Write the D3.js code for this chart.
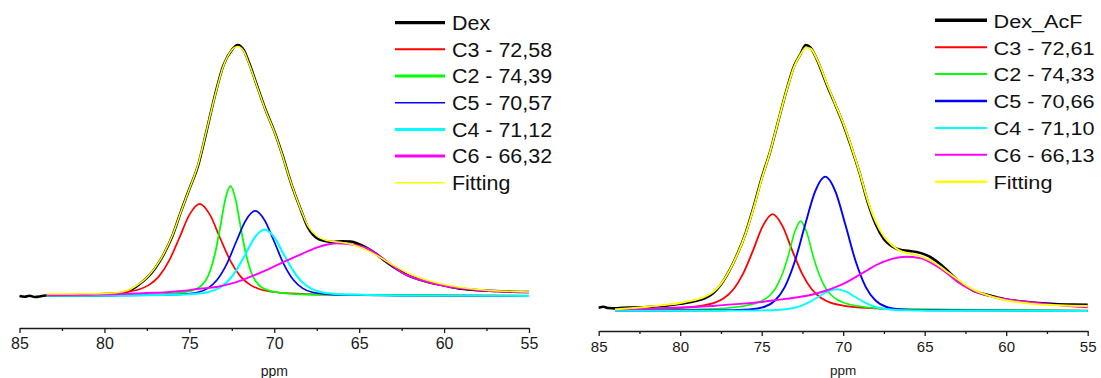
<!DOCTYPE html>
<html>
<head>
<meta charset="utf-8">
<title>Dex / Dex_AcF deconvolution</title>
<script src="https://cdn.jsdelivr.net/npm/d3@7/dist/d3.min.js"></script>
<style>
  html, body { margin: 0; padding: 0; background: #fff; }
  svg { display: block; font-family: "Liberation Sans", Arial, sans-serif; }
</style>
</head>
<body>
<script>
// axis ticks (ppm, reversed axis)
var ppmTicks = [85, 80, 75, 70, 65, 60, 55];
var ppmMinorTicks = [82.5, 77.5, 72.5, 67.5, 62.5, 57.5];

// legend texts
var dexLabels = ["Dex", "C3 - 72,58", "C2 - 74,39", "C5 - 70,57", "C4 - 71,12", "C6 - 66,32", "Fitting"];
var acfLabels = ["Dex_AcF", "C3 - 72,61", "C2 - 74,33", "C5 - 70,66", "C4 - 71,10", "C6 - 66,13", "Fitting"];

// ---- Dex (left) : [ppm, intensity a.u.] ----
var dexSpectrum = [[85,0],[84.7,-0.3],[84.4,0.1],[84.1,-0.4],[83.8,-0.2],[83.5,0.2],[83,0.2],[82,0.3],[81,0.4],[80,0.5],[79,1.2],[78.5,2.2],[78,4.4],[77.5,7.2],[77,11.2],[76.5,16.7],[76,23.9],[75.5,33.5],[75,42.6],[74.5,51.6],[74,65.3],[73.5,79.7],[73,91.8],[72.5,98],[72.15,100],[71.8,98],[71.5,93.2],[71,83.5],[70.5,74],[70,65.7],[69.5,55.8],[69,44.8],[68.5,35.5],[68,27.1],[67.5,23.1],[67,21.9],[66.5,21.5],[66,21.8],[65.5,21.7],[65,20.6],[64.5,19.0],[64,16.8],[63.5,14.1],[63,11.7],[62.5,9.6],[62,7.8],[61.5,6.7],[61,5.7],[60,4.2],[59,2.9],[58,2.3],[57,2.0],[56,1.7],[55,1.6]];
var dexC3 = [[83.4,0.40],[80.39,0.86],[78.89,1.50],[77.99,2.57],[77.39,4.33],[76.79,7.82],[76.19,14.1],[75.59,23.1],[74.99,32.4],[74.39,36.7],[73.79,32.4],[73.19,23.1],[72.59,14.1],[71.99,7.82],[71.39,4.33],[70.79,2.57],[69.89,1.50],[68.39,0.86],[65.39,0.40],[55,0.09]];
var dexC2 = [[83.4,0.11],[77.08,0.59],[75.58,1.27],[74.83,2.24],[74.38,3.64],[74.08,5.75],[73.78,9.88],[73.48,17.08],[73.18,27.48],[72.88,38.59],[72.58,43.9],[72.28,38.59],[71.98,27.48],[71.68,17.08],[71.38,9.88],[71.08,5.75],[70.78,3.64],[70.33,2.24],[69.58,1.27],[68.08,0.59],[55,0.04]];
var dexC5 = [[83.4,0.09],[79.52,0.18],[76.72,0.40],[75.32,0.73],[74.48,1.49],[73.92,3.05],[73.36,6.47],[72.8,12.7],[72.24,21.6],[71.68,30.1],[71.12,33.9],[70.56,30.1],[70.0,21.6],[69.44,12.7],[68.88,6.47],[68.32,3.05],[67.76,1.49],[66.92,0.73],[65.52,0.40],[62.72,0.18],[55,0.05]];
var dexC4 = [[83.4,0.09],[78.97,0.21],[76.17,0.48],[74.77,0.82],[73.93,1.51],[73.37,2.76],[72.81,5.35],[72.25,10.1],[71.69,16.7],[71.13,23.5],[70.57,26.5],[70.01,23.5],[69.45,16.7],[68.89,10.1],[68.33,5.35],[67.77,2.76],[67.21,1.51],[66.37,0.82],[64.97,0.48],[62.17,0.21],[55,0.05]];
var dexC6 = [[83.4,0.3],[81,0.5],[79,0.8],[77.5,1.2],[76.3,1.5],[75.3,2.1],[74.4,2.9],[73.4,3.6],[72.5,5.0],[71.5,7.4],[70.5,10.2],[69.5,13.4],[68.5,16.4],[67.5,19.3],[66.8,20.6],[66.32,21.0],[65.8,20.8],[65,20.0],[64.5,18.9],[64,16.8],[63.4,13.9],[62.4,9.0],[61.4,6.4],[60.5,4.8],[59.5,3.5],[58.5,2.7],[57.5,2.1],[56.5,1.8],[55,1.5]];
var dexFit = [[83.4,0.8],[82,0.8],[81,0.9],[80,1.0],[79,1.6],[78.5,2.6],[78,4.6],[77.5,7.4],[77,11.4],[76.5,16.9],[76,24.1],[75.5,33.5],[75,42.6],[74.5,52.0],[74,65.5],[73.5,79.5],[73,91.5],[72.5,98],[72.15,99.4],[71.8,97.6],[71.5,92.8],[71,83.3],[70.5,73.8],[70,65.5],[69.5,55.6],[69,44.8],[68.5,35.5],[68,27.7],[67.5,23.9],[67,22.3],[66.5,21.7],[66,21.3],[65.5,20.6],[65,19.5],[64.5,18.1],[64,16.3],[63.5,14.3],[63,12.3],[62.5,10.4],[62,8.8],[61.5,7.4],[61,6.3],[60,4.6],[59,3.4],[58,2.6],[57,2.1],[56,1.8],[55,1.6]];

// ---- Dex_AcF (right) ----
var acfSpectrum = [[85,1.2],[84.7,1.6],[84.4,1.1],[84,1.0],[83.5,1.2],[83,1.3],[82,1.5],[81,1.9],[80,2.7],[79.5,3.2],[79,3.9],[78.5,4.8],[78,6.6],[77.5,10.0],[77,15.0],[76.5,21.3],[76,29.0],[75.5,39.0],[75,50.0],[74.5,59.5],[74,71.0],[73.5,82.5],[73,92.3],[72.6,96.8],[72.3,100],[72,99.0],[71.6,94.4],[71,85.0],[70.5,77.8],[70,70.3],[69.5,61.5],[69,52.0],[68.5,41.0],[68,32.5],[67.5,27.0],[67,24.3],[66.5,23.0],[66,22.6],[65.5,22.2],[65,21.3],[64.5,19.7],[64,17.4],[63.5,14.6],[63,11.7],[62.5,9.4],[62,7.6],[61.5,6.6],[61,5.8],[60.5,5.0],[60,4.3],[59,3.6],[58,3.0],[57,2.6],[56,2.4],[55,2.3]];
var acfC3 = [[84,0.43],[80.33,1.06],[78.83,1.86],[77.93,3.02],[77.33,4.77],[76.73,8.19],[76.13,14.16],[75.53,22.79],[74.93,32.0],[74.33,36.4],[73.73,32.0],[73.13,22.79],[72.53,14.16],[71.93,8.19],[71.33,4.77],[70.73,3.02],[69.83,1.86],[68.33,1.06],[65.33,0.49],[55,0.11]];
var acfC2 = [[84,0.19],[78.31,0.73],[76.41,1.59],[75.46,2.70],[74.89,4.12],[74.51,5.83],[74.13,8.75],[73.75,13.6],[73.37,20.8],[72.99,29.4],[72.61,33.8],[72.23,29.4],[71.85,20.8],[71.47,13.6],[71.09,8.75],[70.71,5.83],[70.33,4.12],[69.76,2.70],[68.81,1.59],[66.91,0.73],[55,0.08]];
var acfC5 = [[84,0.07],[77.3,0.30],[75.75,0.60],[74.82,1.59],[74.2,3.84],[73.58,9.09],[72.96,18.8],[72.34,32.3],[71.72,45.0],[71.10,50.5],[70.48,45.0],[69.86,32.3],[69.24,18.8],[68.62,9.09],[68.0,3.84],[67.38,1.59],[66.45,0.60],[64.9,0.30],[55,0.03]];
var acfC4 = [[84,0.03],[76.2,0.14],[74.75,0.26],[73.88,0.47],[73.3,0.85],[72.72,1.66],[72.14,3.12],[71.56,5.18],[70.98,7.26],[70.4,8.2],[69.82,7.26],[69.24,5.18],[68.66,3.12],[68.08,1.66],[67.5,0.85],[66.92,0.47],[66.05,0.26],[64.6,0.14],[55,0.02]];
var acfC6 = [[84,0.6],[82,0.9],[80,1.3],[78,1.9],[76.5,2.6],[75,3.4],[74,4.2],[73,5.0],[72,6.0],[71,7.8],[70,10.2],[69,13.6],[68.5,15.4],[68,17.2],[67,19.6],[66.13,20.4],[65.3,19.9],[64.3,17.0],[63.5,13.5],[63,11.0],[62,7.6],[61,5.6],[60,4.4],[59,3.6],[58,2.9],[57,2.3],[56,1.8],[55,1.4]];
var acfFit = [[84,0.6],[83,1.1],[82,1.6],[81,2.2],[80,3.0],[79.5,3.6],[79,4.3],[78.5,5.3],[78,7.0],[77.5,10.2],[77,15.0],[76.5,21.2],[76,28.8],[75.5,38.6],[75,49.6],[74.5,59.5],[74,71.0],[73.5,82.3],[73,92.0],[72.6,96.6],[72.3,99.0],[72,98.6],[71.6,94.6],[71,85.4],[70.5,78.0],[70,70.6],[69.5,61.8],[69,52.2],[68.5,41.6],[68,33.5],[67.5,28.0],[67,24.7],[66.5,22.6],[66,21.7],[65.5,21.0],[65,20.0],[64.5,18.5],[64,16.5],[63.5,14.2],[63,11.9],[62.5,9.8],[62,8.0],[61.5,6.7],[61,5.6],[60.5,4.7],[60,4.0],[59,3.1],[58,2.5],[57,2.2],[56,2.0],[55,1.9]];

var colors = ["#000000", "#ff0000", "#00ff00", "#0000ff", "#00ffff", "#ff00ff", "#ffff00"];

var svg = d3.select("body").append("svg")
  .attr("width", 1101)
  .attr("height", 378);

svg.append("rect").attr("width", 1101).attr("height", 378).attr("fill", "#fff");

var panels = [
  {
    series: [dexSpectrum, dexC3, dexC2, dexC5, dexC4, dexC6, dexFit],
    labels: dexLabels,
    x0: 19.5, x1: 529, base: 296, top: 45, axisY: 328, pad: 4.5, tickFont: 16,
    ppmY: 375.5, ppmFont: 14,
    lineW: [2.6, 1.7, 1.8, 1.7, 2.1, 1.9, 1.5],
    legX: 395, legLen: 50, legTextX: 452, legY: 22.7, legGap: 26.67, legFont: 19.5, legStretch: 1.1,
    legW: [3.2, 2, 3, 1.4, 3, 3, 1.4]
  },
  {
    series: [acfSpectrum, acfC3, acfC2, acfC5, acfC4, acfC6, acfFit],
    labels: acfLabels,
    x0: 598.7, x1: 1087.7, base: 311, top: 45, axisY: 331, pad: 5, tickFont: 15,
    ppmY: 374.5, ppmFont: 13.5,
    lineW: [2.6, 1.8, 1.6, 1.9, 1.9, 1.9, 1.9],
    legX: 935, legLen: 52, legTextX: 993.5, legY: 20.3, legGap: 26.9, legFont: 19, legStretch: 1.14,
    legW: [3.4, 2, 2, 2.4, 2, 2, 2.4]
  }
];

panels.forEach(function(p) {
  var g = svg.append("g");

  var xScale = d3.scaleLinear().domain([85, 55]).range([p.x0, p.x1]);
  var yScale = d3.scaleLinear().domain([0, 100]).range([p.base, p.top]);

  // minor ticks first, then the main axis over them
  var minorAxis = d3.axisBottom(xScale)
    .tickValues(ppmMinorTicks)
    .tickSize(3)
    .tickSizeOuter(0)
    .tickFormat("");
  var gMinor = g.append("g")
    .attr("transform", "translate(0," + p.axisY + ")")
    .call(minorAxis);
  gMinor.select(".domain").remove();

  var xAxis = d3.axisBottom(xScale)
    .tickValues(ppmTicks)
    .tickSize(5)
    .tickSizeOuter(0)
    .tickPadding(p.pad)
    .tickFormat(d3.format("d"));
  var gAxis = g.append("g")
    .attr("transform", "translate(0," + p.axisY + ")")
    .call(xAxis);

  g.selectAll(".domain, .tick line")
    .attr("stroke", "#1a1a1a")
    .attr("stroke-width", 1.3);
  gAxis.selectAll("text")
    .attr("fill", "#1a1a1a")
    .style("font-size", p.tickFont + "px")
    .style("font-family", "'Liberation Sans', Arial, sans-serif");

  g.append("text")
    .attr("x", (p.x0 + p.x1) / 2)
    .attr("y", p.ppmY)
    .attr("text-anchor", "middle")
    .attr("fill", "#1a1a1a")
    .style("font-size", p.ppmFont + "px")
    .text("ppm");

  var line = d3.line()
    .x(function(d) { return xScale(d[0]); })
    .y(function(d) { return yScale(d[1]); })
    .curve(d3.curveMonotoneX);

  g.selectAll("path.curve")
    .data(p.series)
    .enter()
    .append("path")
    .attr("class", "curve")
    .attr("d", line)
    .attr("fill", "none")
    .attr("stroke", function(d, i) { return colors[i]; })
    .attr("stroke-width", function(d, i) { return p.lineW[i]; })
    .attr("stroke-linejoin", "round");

  // legend
  var leg = g.selectAll("g.leg")
    .data(p.labels)
    .enter()
    .append("g")
    .attr("class", "leg")
    .attr("transform", function(d, i) { return "translate(0," + (p.legY + i * p.legGap) + ")"; });

  leg.append("line")
    .attr("x1", p.legX)
    .attr("x2", p.legX + p.legLen)
    .attr("stroke", function(d, i) { return colors[i]; })
    .attr("stroke-width", function(d, i) { return p.legW[i]; });

  // the source image is a little stretched sideways, so the text is too
  leg.append("text")
    .attr("transform", "translate(" + p.legTextX + ",7.3) scale(" + p.legStretch + ",1)")
    .attr("fill", "#111")
    .style("font-size", p.legFont + "px")
    .text(function(d) { return d; });
});
</script>
</body>
</html>
